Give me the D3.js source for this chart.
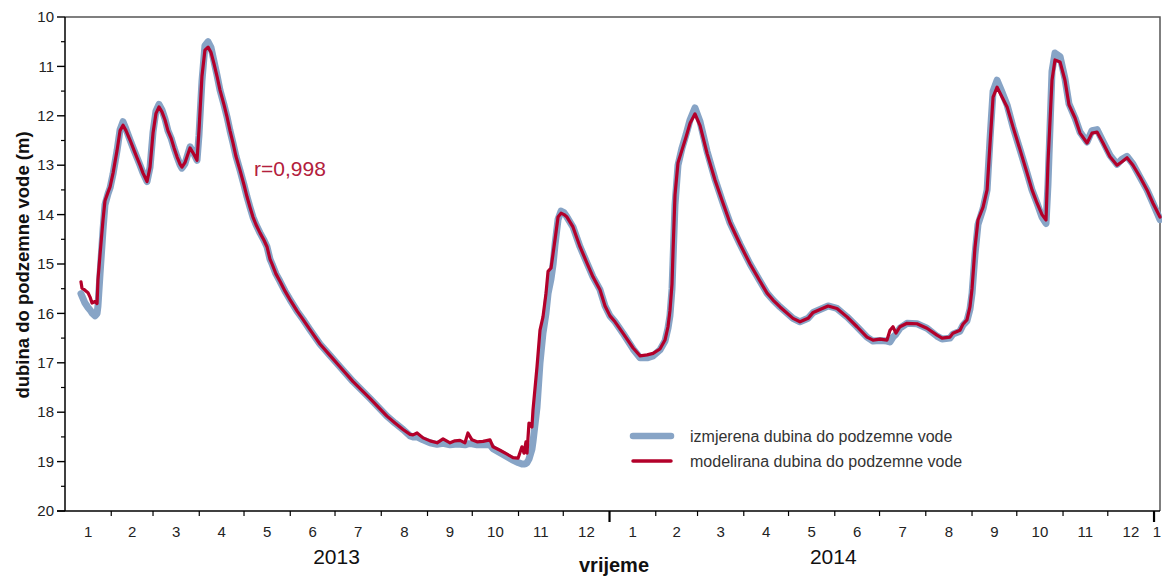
<!DOCTYPE html>
<html>
<head>
<meta charset="utf-8">
<script src="https://cdn.jsdelivr.net/npm/d3@7"></script>
<style>
  html, body { margin: 0; padding: 0; background: #fff; }
  svg { display: block; font-family: "Liberation Sans", Arial, sans-serif; }
</style>
</head>
<body>
<svg id="chart" width="1164" height="577"></svg>
<script>
// ---- data ----
const startDate = "2013-01-01";
const endDate = "2015-01-05";
// day offsets from startDate
const dayIndex = [10.7,11.4,13.4,15.4,16.8,18.1,20.1,21.5,22.1,23.5,25.5,26.8,28.8,30.2,32.2,34.9,36.9,38.9,40.9,43.6,46.3,48.3,50.3,52.3,55.0,57.0,59.0,61.0,63.0,65.0,67.0,69.0,71.1,73.1,75.1,77.1,78.4,80.4,81.8,83.8,85.8,88.5,89.8,91.8,93.8,95.9,97.9,99.9,101.9,103.9,106.6,108.6,110.6,112.6,114.6,117.3,120.0,122.0,124.0,126.0,128.0,130.7,133.4,135.4,137.4,138.8,141.4,144.1,147.5,150.8,155.5,159.5,164.2,170.9,177.6,184.3,193.1,204.4,215.8,221.2,226.6,231.3,233.3,236.0,240.0,244.7,249.4,253.4,258.1,261.4,264.8,268.1,270.1,272.8,276.2,280.2,284.9,286.9,291.6,296.3,300.3,303.7,306.3,307.7,309.0,309.7,311.0,313.0,313.7,316.4,318.4,320.4,322.4,323.8,325.8,327.2,328.5,330.5,332.5,334.5,336.5,340.5,345.2,349.9,353.9,358.6,362.0,365.3,368.7,374.0,380.8,385.5,390.2,394.2,398.8,402.2,404.2,405.5,406.9,407.6,408.9,410.9,413.6,416.3,419.0,422.3,425.7,430.4,435.7,441.1,445.8,452.5,459.2,465.9,470.6,474.6,479.3,488.0,492.7,498.1,501.5,506.1,511.5,517.5,524.2,530.9,537.6,541.6,546.3,551.0,553.0,555.0,557.0,559.7,564.4,571.1,577.8,584.5,587.9,593.2,595.2,599.9,601.9,604.6,606.6,608.0,610.0,612.0,615.4,618.1,620.1,622.1,624.8,628.1,631.5,635.5,640.2,644.9,648.2,651.6,654.9,657.6,658.9,661.6,663.6,667.0,670.3,673.0,677.0,680.4,685.1,688.4,691.8,695.8,700.5,705.2,708.5,711.9,715.9,720.6,725.3,729.3,734.0];

const modeled = [15.36,15.49,15.53,15.58,15.67,15.79,15.76,15.80,15.32,14.8,14.1,13.72,13.55,13.44,13.16,12.7,12.3,12.19,12.3,12.49,12.7,12.85,13.0,13.16,13.33,13.04,12.35,11.95,11.82,11.92,12.08,12.3,12.45,12.65,12.83,12.98,13.04,12.95,12.83,12.65,12.75,12.9,12.3,11.2,10.67,10.61,10.72,10.95,11.2,11.48,11.78,12.02,12.3,12.55,12.82,13.1,13.4,13.64,13.85,14.05,14.2,14.37,14.52,14.65,14.9,15.0,15.2,15.35,15.55,15.72,15.95,16.12,16.33,16.62,16.85,17.08,17.38,17.72,18.08,18.22,18.35,18.45,18.46,18.42,18.52,18.58,18.62,18.54,18.62,18.58,18.57,18.62,18.42,18.56,18.60,18.59,18.56,18.70,18.77,18.85,18.92,18.93,18.70,18.83,18.60,18.83,18.22,18.30,17.96,17.08,16.34,16.07,15.6,15.15,15.08,14.78,14.5,14.05,13.97,14.0,14.05,14.25,14.65,14.98,15.26,15.52,15.85,16.05,16.17,16.4,16.7,16.86,16.84,16.81,16.72,16.54,16.27,15.95,15.4,14.72,13.6,12.95,12.69,12.43,12.15,11.96,12.2,12.76,13.3,13.77,14.17,14.6,15.0,15.35,15.59,15.73,15.87,16.1,16.17,16.1,15.98,15.92,15.85,15.9,16.07,16.27,16.48,16.54,16.52,16.54,16.34,16.27,16.4,16.27,16.2,16.21,16.3,16.44,16.5,16.48,16.4,16.34,16.22,16.13,15.87,15.5,14.66,14.11,13.85,13.5,12.55,11.62,11.42,11.62,11.82,12.23,12.69,13.16,13.5,13.77,14.0,14.11,12.96,11.28,10.87,10.91,11.28,11.78,12.04,12.35,12.55,12.35,12.33,12.55,12.83,13.0,12.93,12.85,13.0,13.24,13.5,13.77,14.05];

const measured = [15.6,15.65,15.79,15.88,15.93,15.99,16.05,16.0,15.85,15.2,14.3,13.8,13.58,13.46,13.18,12.7,12.28,12.12,12.27,12.49,12.7,12.85,13.0,13.16,13.33,13.04,12.33,11.9,11.77,11.88,12.06,12.3,12.45,12.65,12.83,12.99,13.06,12.97,12.83,12.63,12.73,12.9,12.4,11.3,10.58,10.5,10.62,10.9,11.18,11.48,11.78,12.02,12.3,12.55,12.82,13.1,13.4,13.64,13.85,14.05,14.2,14.37,14.52,14.65,14.9,15.0,15.2,15.35,15.55,15.72,15.95,16.12,16.33,16.62,16.85,17.08,17.38,17.72,18.08,18.22,18.35,18.48,18.5,18.5,18.56,18.62,18.65,18.63,18.66,18.65,18.65,18.66,18.64,18.64,18.66,18.66,18.66,18.74,18.82,18.9,18.97,19.02,19.05,19.05,19.04,19.02,18.95,18.75,18.6,17.9,17.0,16.4,16.0,15.6,15.3,15.0,14.6,14.1,13.93,13.96,14.05,14.25,14.65,14.98,15.26,15.52,15.85,16.05,16.17,16.4,16.72,16.9,16.9,16.86,16.74,16.56,16.3,16.05,15.5,14.9,13.8,13.0,12.65,12.38,12.08,11.84,12.12,12.72,13.28,13.77,14.17,14.6,15.0,15.35,15.59,15.73,15.87,16.1,16.17,16.1,15.98,15.92,15.85,15.9,16.07,16.27,16.48,16.56,16.55,16.56,16.58,16.48,16.42,16.3,16.2,16.21,16.3,16.46,16.52,16.5,16.42,16.36,16.24,16.15,15.92,15.6,14.8,14.2,13.88,13.5,12.45,11.5,11.28,11.52,11.78,12.23,12.69,13.16,13.5,13.77,14.05,14.18,13.4,11.1,10.73,10.8,11.25,11.76,12.04,12.33,12.53,12.3,12.28,12.52,12.8,12.98,12.88,12.82,12.98,13.24,13.5,13.77,14.1];

const yTicks = [10,11,12,13,14,15,16,17,18,19,20];
const yearLabels = ["2013", "2014"];
const yearLabelDates = ["2013-07-02", "2014-05-31"];
const legendLabels = ["izmjerena dubina do podzemne vode", "modelirana dubina do podzemne vode"];
const yTitle = "dubina do podzemne vode (m)";
const xTitle = "vrijeme";
const annotation = "r=0,998";

// ---- layout ----
const svg = d3.select("#chart");
const L = 65, R = 1160, T = 17, B = 511;
const blue = "#87a4c6", red = "#b3002a";

const parse = s => { const [y,m,d] = s.split("-").map(Number); return new Date(Date.UTC(y, m-1, d)); };
const t0 = parse(startDate), t1 = parse(endDate);
const toDate = d => new Date(t0.getTime() + d * 86400000);

const x = d3.scaleUtc().domain([t0, t1]).range([L, R]);
const y = d3.scaleLinear().domain([10, 20]).range([T, B]);

svg.append("defs").append("clipPath").attr("id", "clip")
  .append("rect").attr("x", L).attr("y", T - 6).attr("width", R - L + 2).attr("height", B - T + 6);

// frame (top and right)
svg.append("path").attr("d", `M${L},${T}H${R}V${B}`).attr("fill", "none")
  .attr("stroke", "#555").attr("stroke-width", 1.5);

// lines
const line = vals => d3.line().x((d, i) => x(toDate(dayIndex[i]))).y((d) => y(d)).curve(d3.curveLinear)(vals);
const g = svg.append("g").attr("clip-path", "url(#clip)");
g.append("path").attr("d", line(measured)).attr("fill", "none").attr("stroke", blue)
  .attr("stroke-width", 7).attr("stroke-linejoin", "round").attr("stroke-linecap", "round");
g.append("path").attr("d", line(modeled)).attr("fill", "none").attr("stroke", red)
  .attr("stroke-width", 3.2).attr("stroke-linejoin", "round").attr("stroke-linecap", "round");

// y axis
const yAxis = svg.append("g");
yAxis.append("line").attr("x1", L).attr("x2", L).attr("y1", T).attr("y2", B).attr("stroke", "#000").attr("stroke-width", 1.5);
const minorY = d3.range(10.5, 20, 1);
yAxis.selectAll(".ymin").data(minorY).join("line")
  .attr("x1", L - 4).attr("x2", L).attr("y1", d => y(d)).attr("y2", d => y(d)).attr("stroke", "#000").attr("stroke-width", 1.2);
yAxis.selectAll(".ymaj").data(yTicks).join("line")
  .attr("x1", L - 8).attr("x2", L).attr("y1", d => y(d)).attr("y2", d => y(d)).attr("stroke", "#000").attr("stroke-width", 1.4);
yAxis.selectAll(".ylab").data(yTicks).join("text")
  .attr("x", L - 11).attr("y", d => y(d)).attr("dy", "0.35em").attr("text-anchor", "end")
  .attr("font-size", 15).attr("fill", "#222").text(d => d);

// x axis
const xAxis = svg.append("g");
xAxis.append("line").attr("x1", L - 8).attr("x2", R).attr("y1", B).attr("y2", B).attr("stroke", "#000").attr("stroke-width", 1.5);
const months = d3.utcMonth.range(t0, t1);
const monthStarts = months.filter(m => m.getUTCMonth() !== 0 && m > t0);
xAxis.selectAll(".xmin").data(monthStarts).join("line")
  .attr("x1", d => x(d)).attr("x2", d => x(d)).attr("y1", B).attr("y2", B + 5).attr("stroke", "#000").attr("stroke-width", 1.2);
const yearStarts = d3.utcYear.range(d3.utcDay.offset(t0, 1), t1);
xAxis.selectAll(".xmaj").data(yearStarts).join("line")
  .attr("x1", d => x(d)).attr("x2", d => x(d)).attr("y1", B).attr("y2", B + 11).attr("stroke", "#000").attr("stroke-width", 2.2);
xAxis.selectAll(".xlab").data(months).join("text")
  .attr("x", d => { const e = d3.utcMonth.offset(d, 1); return (x(d) + x(e < t1 ? e : t1)) / 2; })
  .attr("y", B + 26).attr("text-anchor", "middle").attr("font-size", 15).attr("fill", "#222")
  .text(d => d.getUTCMonth() + 1);

// year labels
svg.selectAll(".year").data(yearLabels).join("text")
  .attr("x", (d, i) => x(parse(yearLabelDates[i])))
  .attr("y", 564).attr("text-anchor", "middle").attr("font-size", 21).attr("fill", "#111").text(d => d);

// axis titles
svg.append("text").attr("x", 614).attr("y", 572).attr("text-anchor", "middle")
  .attr("font-size", 20).attr("font-weight", "bold").attr("fill", "#111").text(xTitle);
svg.append("text").attr("transform", "translate(29,265) rotate(-90)").attr("text-anchor", "middle")
  .attr("font-size", 18.5).attr("font-weight", "bold").attr("fill", "#111").text(yTitle);

// annotation
svg.append("text").attr("x", 254).attr("y", 176).attr("font-size", 21).attr("fill", "#b3203c").text(annotation);

// legend
const lg = svg.append("g");
const legendStyles = [{c: blue, w: 6.5}, {c: red, w: 3.5}];
legendLabels.forEach((lab, i) => {
  const yy = 436 + i * 25;
  lg.append("line").attr("x1", 633).attr("x2", 671).attr("y1", yy).attr("y2", yy)
    .attr("stroke", legendStyles[i].c).attr("stroke-width", legendStyles[i].w).attr("stroke-linecap", "round");
  lg.append("text").attr("x", 690).attr("y", yy).attr("dy", "0.35em").attr("font-size", 16).attr("fill", "#333").text(lab);
});
</script>
</body>
</html>
